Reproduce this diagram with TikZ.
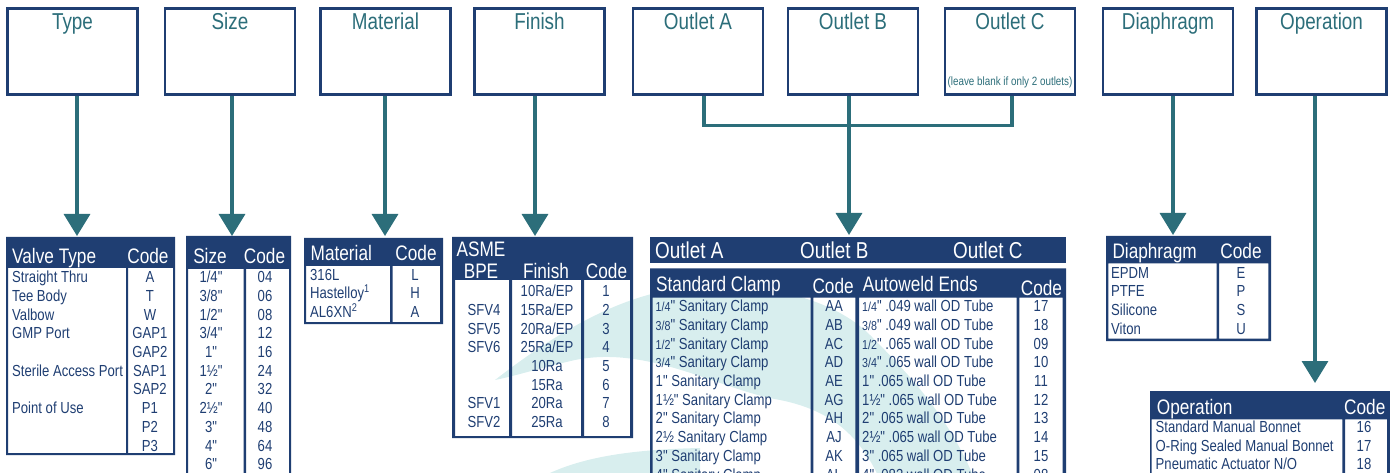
\documentclass[tikz,border=0pt]{standalone}
\usepackage{fontspec}
\newfontfamily\nar{Liberation Sans}[FakeStretch=0.82]
\usetikzlibrary{arrows.meta}
\definecolor{navy}{HTML}{1F3E72}
\definecolor{petrol}{HTML}{2C6E7A}
\definecolor{wmark}{HTML}{D8EEEE}
\newcommand{\bodyf}{\nar\fontsize{16}{18}\selectfont}
\newcommand{\headf}{\nar\fontsize{21}{22}\selectfont}
\newcommand{\topf}{\nar\fontsize{23}{24}\selectfont}
\newcommand{\fr}[1]{{\fontsize{13}{13}\selectfont #1}}

\begin{document}
\begin{tikzpicture}[x=1pt,y=-1pt,
  topbox/.style={draw=navy,line width=2.8pt,fill=white,minimum width=130pt,
    minimum height=86pt,inner sep=0pt},
  toplab/.style={text=petrol,font=\topf,inner sep=0pt,anchor=base},
  link/.style={draw=petrol,line width=3.3pt},
  tip/.style={link,-{Triangle[width=26pt,length=22pt]}},
  head/.style={text=white,font=\headf,inner sep=0pt},
  cell/.style={text=navy,font=\bodyf,inner sep=0pt}]
  \useasboundingbox (0,0) rectangle (1390,473);
  \clip (0,0) rectangle (1390,473);

  % filigrane
  \fill[wmark] (495,380) .. controls (540,345) and (600,305) .. (660,292)
    .. controls (760,275) and (835,300) .. (870,335)
    .. controls (915,380) and (950,420) .. (975,480) -- (880,480)
    .. controls (860,435) and (830,410) .. (780,400)
    .. controls (720,390) and (650,345) .. (575,360)
    .. controls (540,368) and (515,376) .. cycle;
  \fill[wmark] (520,490) .. controls (560,462) and (610,450) .. (700,448)
    -- (700,490) -- cycle;

  % cases du haut
  \foreach \nm/\cx/\lab in {type/72.5/Type, size/230/Size,
      mat/385.5/Material, fin/539.5/Finish, outa/698/Outlet A,
      outb/853/Outlet B, outc/1010/Outlet C, dia/1168/Diaphragm,
      oper/1321.5/Operation} {
    \node[topbox] (\nm-box) at (\cx,51.4) {};
    \node[toplab] (\nm-lab) at (\cx,29.5) {\lab};
  }
  \node[toplab,font=\nar\fontsize{12}{12}\selectfont] (outc-note)
    at (1010,86) {(leave blank if only 2 outlets)};

  % fleches
  \coordinate (typetip) at (77,236);
  \coordinate (sizetip) at (232,236);
  \coordinate (mattip) at (385,236);
  \coordinate (fintip) at (535,236);
  \coordinate (outbtip) at (849,235);
  \coordinate (diatip) at (1173,235);
  \coordinate (opertip) at (1315,383);
  \foreach \nm in {type,size,mat,fin,outb,dia,oper}
    \draw[tip] (\nm-box.south -| \nm tip) -- (\nm tip);
  \draw[link] ([xshift=6pt]outa-box.south) -- ++(0,29.5)
    -| ([xshift=2pt]outc-box.south);

  % Valve Type
  \fill[navy,even odd rule] (6,237) rectangle (175,455)
    (8,268) rectangle (126,453) (128,268) rectangle (173,453);
  \node[head,anchor=base west] (vt-h1) at (12,264) {Valve Type};
  \node[head,anchor=base] (vt-h2) at (148,264) {Code};
  \foreach \nm/\cd [count=\i from 0] in {Straight Thru/A, Tee Body/T,
      Valbow/W, GMP Port/GAP1, /GAP2, Sterile Access Port/SAP1, /SAP2,
      Point of Use/P1, /P2, /P3} {
    \node[cell,anchor=base west] (vt-n\i) at (12,282.7+18.7*\i) {\nm};
    \node[cell,anchor=base] (vt-c\i) at (150,282.7+18.7*\i) {\cd};
  }

  % Size
  \fill[navy,even odd rule] (186,236) rectangle (291,490)
    (188,269) rectangle (243.5,490) (246,269) rectangle (289,490);
  \node[head,anchor=base] (sz-h1) at (210,263.3) {Size};
  \node[head,anchor=base] (sz-h2) at (264.5,263.3) {Code};
  \foreach \sz/\cd [count=\i from 0] in {{1/4"}/04, {3/8"}/06, {1/2"}/08,
      {3/4"}/12, {1"}/16, {1½"}/24, {2"}/32, {2½"}/40, {3"}/48, {4"}/64,
      {6"}/96} {
    \node[cell,anchor=base] (sz-n\i) at (211,282.7+18.7*\i) {\sz};
    \node[cell,anchor=base] (sz-c\i) at (265,282.7+18.7*\i) {\cd};
  }

  % Material
  \fill[navy,even odd rule] (304,238) rectangle (443,324)
    (306,266) rectangle (390,322) (392.5,266) rectangle (440,322);
  \node[head,anchor=base west] (mt-h1) at (310.5,260.7) {Material};
  \node[head,anchor=base] (mt-h2) at (416,260.7) {Code};
  \foreach \nm/\cd [count=\i from 0] in {316L/L,
      Hastelloy\textsuperscript{1}/H, AL6XN\textsuperscript{2}/A} {
    \node[cell,anchor=base west] (mt-n\i) at (310,280+18.7*\i) {\nm};
    \node[cell,anchor=base] (mt-c\i) at (415,280+18.7*\i) {\cd};
  }

  % Finish
  \fill[navy,even odd rule] (452,237) rectangle (633,438)
    (455,280) rectangle (509,436) (512,280) rectangle (581,436)
    (584,280) rectangle (630,436);
  \node[head,anchor=base] (fn-h1) at (481,256.7) {ASME};
  \node[head,anchor=base] (fn-h2) at (481,278) {BPE};
  \node[head,anchor=base] (fn-h3) at (546,278.5) {Finish};
  \node[head,anchor=base] (fn-h4) at (606.5,278) {Code};
  \foreach \bp/\fn/\cd [count=\i from 0] in {/{10Ra/EP}/1, SFV4/{15Ra/EP}/2,
      SFV5/{20Ra/EP}/3, SFV6/{25Ra/EP}/4, /10Ra/5, /15Ra/6, SFV1/20Ra/7,
      SFV2/25Ra/8} {
    \node[cell,anchor=base] (fn-b\i) at (484,296.7+18.7*\i) {\bp};
    \node[cell,anchor=base] (fn-n\i) at (547,296.7+18.7*\i) {\fn};
    \node[cell,anchor=base] (fn-c\i) at (606,296.7+18.7*\i) {\cd};
  }

  % Outlets
  \fill[navy] (650,237) rectangle (1066,263.5);
  \fill[navy,even odd rule] (650,268.3) rectangle (1066,490)
    (652.7,297.7) rectangle (810.7,490) (813.3,297.7) rectangle (855.3,490)
    (859,297.7) rectangle (1016.7,490) (1019.3,297.7) rectangle (1062.7,490);
  \node[head,font=\topf,anchor=base west] (ot-a) at (655,258.3) {Outlet A};
  \node[head,font=\topf,anchor=base west] (ot-b) at (800,258.3) {Outlet B};
  \node[head,font=\topf,anchor=base west] (ot-c) at (953,258.3) {Outlet C};
  \node[head,anchor=base west] (ot-h1) at (656,291) {Standard Clamp};
  \node[head,anchor=base west] (ot-h2) at (812.3,293) {Code};
  \node[head,anchor=base west] (ot-h3) at (862.7,291) {Autoweld Ends};
  \node[head,anchor=base west] (ot-h4) at (1020.7,295) {Code};
  \foreach \nm/\cd [count=\i from 0] in {{\fr{1/4}" Sanitary Clamp}/AA,
      {\fr{3/8}" Sanitary Clamp}/AB, {\fr{1/2}" Sanitary Clamp}/AC,
      {\fr{3/4}" Sanitary Clamp}/AD, 1" Sanitary Clamp/AE,
      1½" Sanitary Clamp/AG, 2" Sanitary Clamp/AH, 2½ Sanitary Clamp/AJ,
      3" Sanitary Clamp/AK, 4" Sanitary Clamp/AL} {
    \node[cell,anchor=base west] (sc-n\i) at (655.5,311.7+18.7*\i) {\nm};
    \node[cell,anchor=base] (sc-c\i) at (834,311.7+18.7*\i) {\cd};
  }
  \foreach \nm/\cd [count=\i from 0] in {{\fr{1/4}" .049 wall OD Tube}/17,
      {\fr{3/8}" .049 wall OD Tube}/18, {\fr{1/2}" .065 wall OD Tube}/09,
      {\fr{3/4}" .065 wall OD Tube}/10, 1" .065 wall OD Tube/11,
      1½" .065 wall OD Tube/12, 2" .065 wall OD Tube/13,
      2½" .065 wall OD Tube/14, 3" .065 wall OD Tube/15,
      4" .083 wall OD Tube/08} {
    \node[cell,anchor=base west] (aw-n\i) at (862,311.7+18.7*\i) {\nm};
    \node[cell,anchor=base] (aw-c\i) at (1041,311.7+18.7*\i) {\cd};
  }

  % Diaphragm
  \fill[navy,even odd rule] (1106,236) rectangle (1271,341)
    (1108.3,263.3) rectangle (1216.7,338.7) (1219,263.3) rectangle (1268.3,338.7);
  \node[head,anchor=base west] (dp-h1) at (1112.3,258.3) {Diaphragm};
  \node[head,anchor=base] (dp-h2) at (1241,258.3) {Code};
  \foreach \nm/\cd [count=\i from 0] in {EPDM/E, PTFE/P, Silicone/S, Viton/U} {
    \node[cell,anchor=base west] (dp-n\i) at (1111,278.3+18.6*\i) {\nm};
    \node[cell,anchor=base] (dp-c\i) at (1241,278.3+18.6*\i) {\cd};
  }

  % Operation
  \fill[navy,even odd rule] (1150,391) rectangle (1395,490)
    (1151.7,419.3) rectangle (1342.3,490) (1345,419.3) rectangle (1387,490);
  \node[head,anchor=base west] (op-h1) at (1156.7,414) {Operation};
  \node[head,anchor=base west] (op-h2) at (1344,414) {Code};
  \foreach \nm/\cd [count=\i from 0] in {Standard Manual Bonnet/16,
      O-Ring Sealed Manual Bonnet/17, {Pneumatic Actuator N/O}/18} {
    \node[cell,anchor=base west] (op-n\i) at (1155.5,432.3+18.7*\i) {\nm};
    \node[cell,anchor=base] (op-c\i) at (1364,432.3+18.7*\i) {\cd};
  }
\end{tikzpicture}
\end{document}
